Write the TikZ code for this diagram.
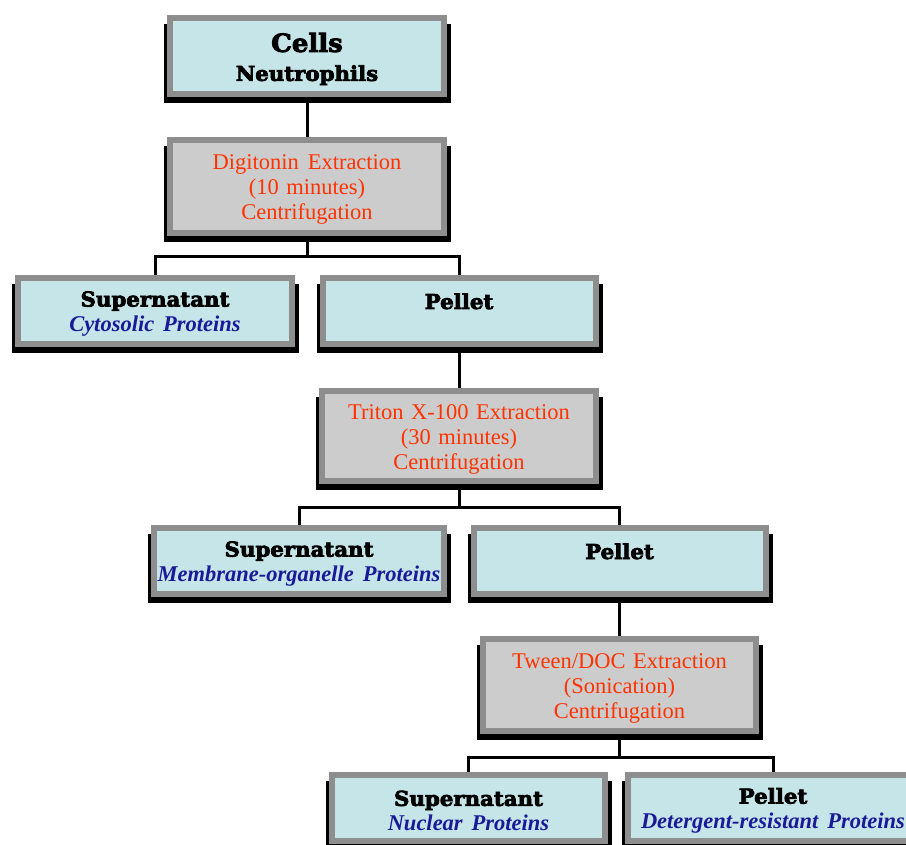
\documentclass[tikz,border=0pt]{standalone}
\usepackage{fontspec}
\setmainfont{Liberation Serif}
\newfontfamily\headfont{DejaVu Serif}[BoldFeatures={FakeBold=3.5,FakeStretch=1.04}]
\usetikzlibrary{backgrounds}

\definecolor{boxcyan}{HTML}{C6E5E9}
\definecolor{boxgray}{HTML}{CCCCCC}
\definecolor{framegray}{HTML}{8E8E8E}
\definecolor{steptext}{HTML}{FF3300}
\definecolor{protblue}{HTML}{1A1A99}

\newcommand\hdtxt[1]{{\headfont\bfseries\fontsize{20.5}{25}\selectfont #1}}
\newcommand\prottxt[1]{{\color{protblue}\bfseries\itshape #1}}
\newcommand\wsp{\hspace{0.4em}}

\pgfdeclarelayer{links}
\pgfdeclarelayer{shade}
\pgfsetlayers{links,shade,main}

\begin{document}
\begin{tikzpicture}[x=1pt, y=-1pt,
	box/.style={draw=framegray, line width=6pt, inner sep=0pt, outer sep=0pt,
		align=center, font=\fontsize{22.5}{25}\selectfont,
		execute at begin node={\rule{0pt}{21pt}}},
	frac/.style={box, fill=boxcyan},
	proc/.style={box, fill=boxgray, text=steptext},
	link/.style={line width=3pt, black}]
	
	% --- 1. canvas ---
	\useasboundingbox (0,0) rectangle (906,845);
	
	% --- 2. starting cells and first extraction ---
	\node[frac, text width=274pt, minimum height=76pt] (cells) at (307,56)
		{{\headfont\bfseries\fontsize{25}{25}\selectfont\rule{0pt}{25pt}Cells}\\[4pt] \hdtxt{Neutrophils}};
	\node[proc, text width=274pt, minimum height=93pt] (digit) at (307,186.5)
		{Digitonin\wsp Extraction\\(10 minutes)\\Centrifugation};
	
	% --- 3. first split ---
	\node[frac, text width=274pt, minimum height=66pt] (sup1) at (155,311)
		{\hdtxt{Supernatant}\\ \prottxt{Cytosolic\wsp Proteins}};
	\node[frac, text width=273pt, minimum height=66pt] (pel1) at (459,311)
		{\hdtxt{Pellet}\\ \mbox{}};
	\node[proc, text width=274pt, minimum height=90pt] (triton) at (459,436)
		{Triton X-100 Extraction\\(30 minutes)\\Centrifugation};
	
	% --- 4. second split ---
	\node[frac, text width=290pt, minimum height=66pt] (sup2) at (299,561)
		{\hdtxt{Supernatant}\\ \prottxt{Membrane-organelle\wsp Proteins}};
	\node[frac, text width=292pt, minimum height=66pt] (pel2) at (619.5,561)
		{\hdtxt{Pellet}\\ \mbox{}};
	\node[proc, text width=273pt, minimum height=92pt] (tween) at (619.5,685)
		{Tween/DOC Extraction\\(Sonication)\\Centrifugation};
	
	% --- 5. last split ---
	\node[frac, text width=273pt, minimum height=66pt] (sup3) at (468.5,808)
		{\hdtxt{Supernatant}\\ \prottxt{Nuclear\wsp Proteins}};
	\node[frac, text width=290pt, minimum height=66pt] (pel3) at (773,808)
		{\hdtxt{Pellet}\\ \prottxt{Detergent-resistant\wsp Proteins}};
	
	% --- 6. black shadows behind the frames ---
	\begin{pgfonlayer}{shade}
		\foreach \n in {cells,digit,sup1,pel1,triton,sup2,pel2,tween,sup3,pel3}
			\fill[black] ([xshift=-6pt,yshift=-6pt]\n.north west) rectangle ([xshift=7pt,yshift=-9pt]\n.south east);
	\end{pgfonlayer}
	
	% --- 7. connectors ---
	\coordinate (split1) at (307,257);
	\coordinate (split2) at (459,507);
	\coordinate (split3) at (619.5,757);
	\begin{pgfonlayer}{links}
		\draw[link] (cells) -- (digit);
		\draw[link] (digit) -- (split1);
		\draw[link] (split1) -| (sup1);
		\draw[link] (split1) -| (pel1);
		\draw[link] (pel1) -- (triton);
		\draw[link] (triton) -- (split2);
		\draw[link] (split2) -| (sup2);
		\draw[link] (split2) -| (pel2);
		\draw[link] (pel2) -- (tween);
		\draw[link] (tween) -- (split3);
		\draw[link] (split3) -| (sup3);
		\draw[link] (split3) -| (pel3);
	\end{pgfonlayer}
	
\end{tikzpicture}
\end{document}
